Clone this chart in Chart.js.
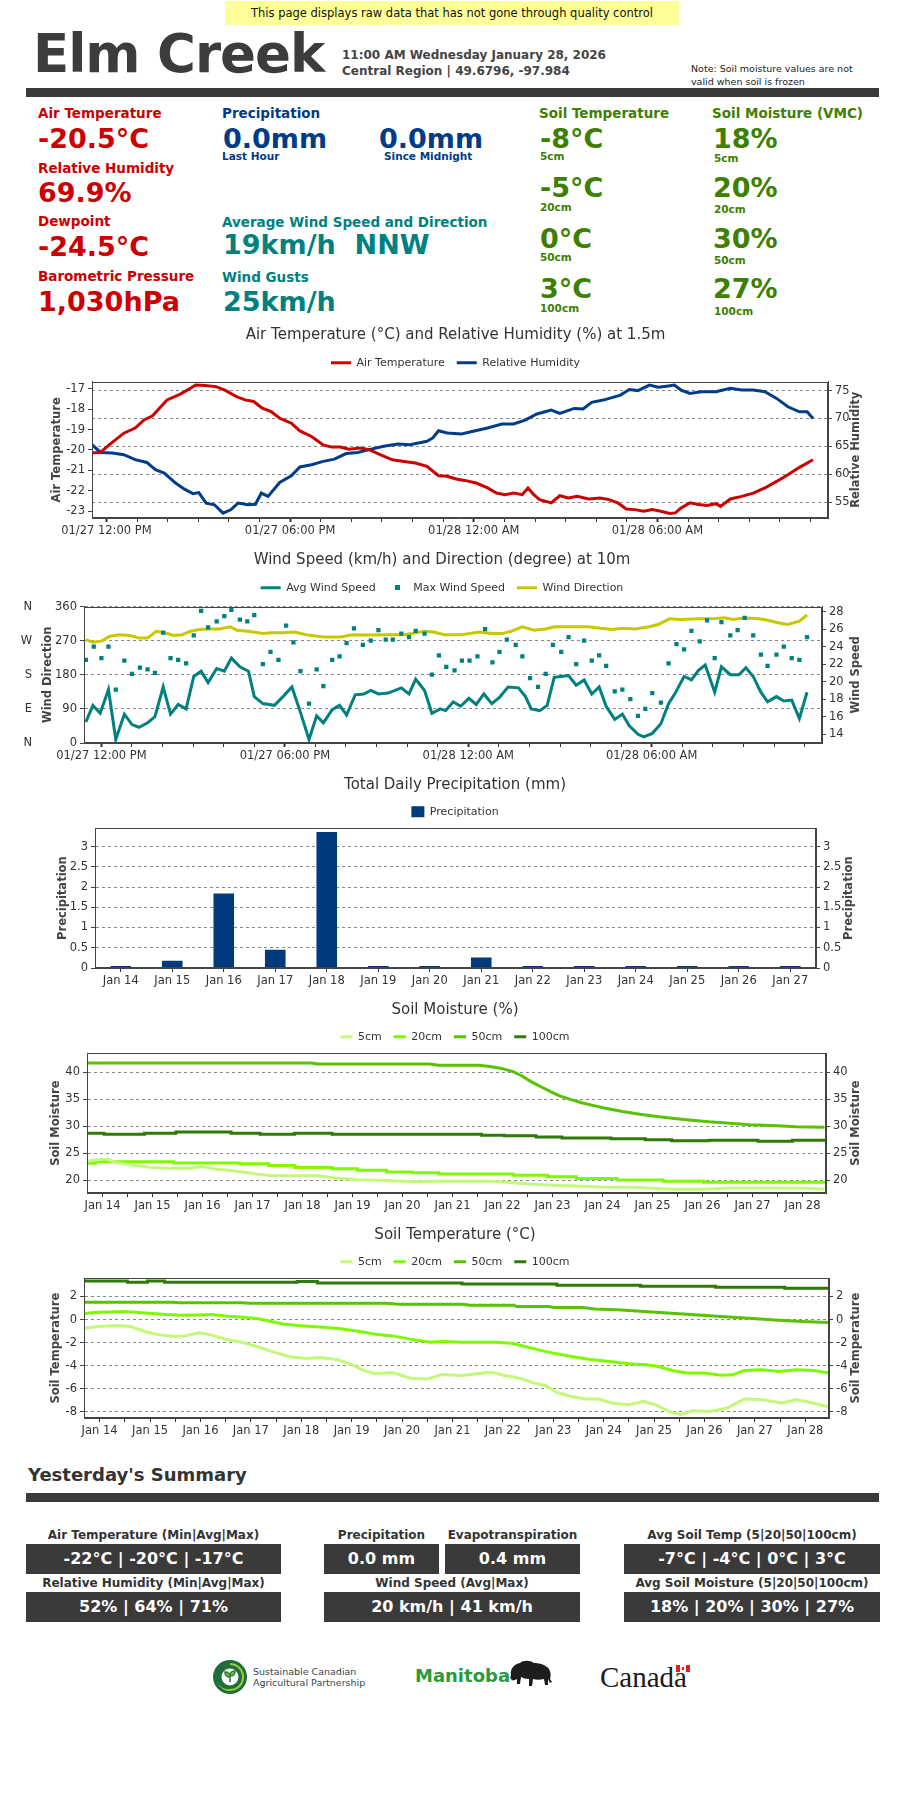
<!DOCTYPE html>
<html>
<head>
<meta charset="utf-8">
<title>Elm Creek</title>
<script src="https://cdn.jsdelivr.net/npm/chart.js@4/dist/chart.umd.min.js"></script>
<style>
  body { margin: 0; background: #fff; font-family: "DejaVu Sans", Verdana, sans-serif; }
  #page { position: relative; width: 900px; height: 1800px; overflow: hidden; }
  #page div, #page canvas, #page svg { position: absolute; }
  .t { white-space: pre; line-height: 1; }
  .lab { font-size: 13.5px; font-weight: bold; }
  .big { font-size: 27px; font-weight: bold; }
  .sub { font-size: 10.5px; font-weight: bold; }
  .red { color: #cc0000; }
  .blue { color: #003c87; }
  .teal { color: #00807f; }
  .green { color: #3d8000; }
  .rule { background: #3a3a3a; left: 26px; width: 853px; height: 9px; }
  .slab { font-size: 12px; font-weight: bold; color: #333; text-align: center; line-height: 14px; height: 14px; white-space: nowrap; }
  .box { background: #3a3a3a; color: #fff; font-size: 16px; font-weight: bold; text-align: center; height: 30px; line-height: 30px; white-space: pre; }
</style>
</head>
<body>
<div id="page">
  <div style="left:225px;top:1px;width:454px;height:24px;background:#ffff99;"></div>
  <div class="t" style="left:225px;top:1px;width:454px;line-height:24px;text-align:center;font-size:11.5px;color:#111;">This page displays raw data that has not gone through quality control</div>

  <div class="t" style="left:33px;top:27px;font-size:53px;font-weight:bold;letter-spacing:-1px;color:#3c3c3c;">Elm Creek</div>
  <div class="t" style="left:342px;top:49px;font-size:12px;font-weight:bold;color:#444;">11:00 AM Wednesday January 28, 2026</div>
  <div class="t" style="left:342px;top:65px;font-size:12px;font-weight:bold;color:#444;">Central Region | 49.6796, -97.984</div>
  <div class="t" style="left:691px;top:63.5px;font-size:9.5px;color:#222;">Note: Soil moisture values are not</div>
  <div class="t" style="left:691px;top:76.5px;font-size:9.5px;color:#222;">valid when soil is frozen</div>
  <div class="rule" style="top:88px;"></div>

  <div class="t lab red" style="left:38px;top:107px;">Air Temperature</div>
  <div class="t big red" style="left:38px;top:125px;">-20.5°C</div>
  <div class="t lab red" style="left:38px;top:161.5px;">Relative Humidity</div>
  <div class="t big red" style="left:38px;top:179.3px;">69.9%</div>
  <div class="t lab red" style="left:38px;top:215px;">Dewpoint</div>
  <div class="t big red" style="left:38px;top:233.3px;">-24.5°C</div>
  <div class="t lab red" style="left:38px;top:269.5px;">Barometric Pressure</div>
  <div class="t big red" style="left:38px;top:287.8px;">1,030hPa</div>

  <div class="t lab blue" style="left:222px;top:107px;">Precipitation</div>
  <div class="t big blue" style="left:223px;top:125px;">0.0mm</div>
  <div class="t sub blue" style="left:222px;top:150.8px;">Last Hour</div>
  <div class="t big blue" style="left:379px;top:125px;">0.0mm</div>
  <div class="t sub blue" style="left:384px;top:150.8px;">Since Midnight</div>
  <div class="t lab teal" style="left:222px;top:215.5px;">Average Wind Speed and Direction</div>
  <div class="t big teal" style="left:223px;top:231.3px;">19km/h  NNW</div>
  <div class="t lab teal" style="left:222px;top:270.5px;">Wind Gusts</div>
  <div class="t big teal" style="left:223px;top:287.8px;">25km/h</div>

  <div class="t lab green" style="left:539px;top:107px;">Soil Temperature</div>
  <div class="t big green" style="left:540px;top:125px;">-8°C</div>
  <div class="t sub green" style="left:540px;top:150.8px;">5cm</div>
  <div class="t big green" style="left:540px;top:173.8px;">-5°C</div>
  <div class="t sub green" style="left:540px;top:201.8px;">20cm</div>
  <div class="t big green" style="left:540px;top:224.8px;">0°C</div>
  <div class="t sub green" style="left:540px;top:252.3px;">50cm</div>
  <div class="t big green" style="left:540px;top:275.3px;">3°C</div>
  <div class="t sub green" style="left:540px;top:302.8px;">100cm</div>

  <div class="t lab green" style="left:712px;top:107px;">Soil Moisture (VMC)</div>
  <div class="t big green" style="left:713px;top:125px;">18%</div>
  <div class="t sub green" style="left:714px;top:152.8px;">5cm</div>
  <div class="t big green" style="left:713px;top:173.8px;">20%</div>
  <div class="t sub green" style="left:714px;top:203.8px;">20cm</div>
  <div class="t big green" style="left:713px;top:224.8px;">30%</div>
  <div class="t sub green" style="left:714px;top:254.8px;">50cm</div>
  <div class="t big green" style="left:713px;top:275.3px;">27%</div>
  <div class="t sub green" style="left:714px;top:305.5px;">100cm</div>

  <canvas id="airChart" width="900" height="218" style="left:0;top:326px;"></canvas>
  <canvas id="windChart" width="900" height="218" style="left:0;top:551px;"></canvas>
  <canvas id="precipChart" width="900" height="218" style="left:0;top:776px;"></canvas>
  <canvas id="moistChart" width="900" height="218" style="left:0;top:1001px;"></canvas>
  <canvas id="soilTempChart" width="900" height="218" style="left:0;top:1226px;"></canvas>

  <div class="t" style="left:28px;top:1466px;font-size:18px;font-weight:bold;color:#333;">Yesterday's Summary</div>
  <div class="rule" style="top:1493px;"></div>

  <div class="slab" style="left:26px;width:255px;top:1528px;">Air Temperature (Min|Avg|Max)</div>
  <div class="box" style="left:26px;width:255px;top:1544px;">-22°C | -20°C | -17°C</div>
  <div class="slab" style="left:324px;width:115px;top:1528px;">Precipitation</div>
  <div class="box" style="left:324px;width:115px;top:1544px;">0.0 mm</div>
  <div class="slab" style="left:445px;width:135px;top:1528px;">Evapotranspiration</div>
  <div class="box" style="left:445px;width:135px;top:1544px;">0.4 mm</div>
  <div class="slab" style="left:624px;width:256px;top:1528px;">Avg Soil Temp (5|20|50|100cm)</div>
  <div class="box" style="left:624px;width:256px;top:1544px;">-7°C | -4°C | 0°C | 3°C</div>

  <div class="slab" style="left:26px;width:255px;top:1576px;">Relative Humidity (Min|Avg|Max)</div>
  <div class="box" style="left:26px;width:255px;top:1592px;">52% | 64% | 71%</div>
  <div class="slab" style="left:324px;width:256px;top:1576px;">Wind Speed (Avg|Max)</div>
  <div class="box" style="left:324px;width:256px;top:1592px;">20 km/h | 41 km/h</div>
  <div class="slab" style="left:624px;width:256px;top:1576px;">Avg Soil Moisture (5|20|50|100cm)</div>
  <div class="box" style="left:624px;width:256px;top:1592px;">18% | 20% | 30% | 27%</div>

  <svg style="left:213px;top:1660px;" width="34" height="34" viewBox="0 0 34 34">
    <circle cx="17" cy="17" r="17" fill="#1f6e3a"/>
    <path d="M17 3 A14 14 0 1 1 4 22 A12 12 0 0 0 17 29 A12 12 0 0 0 17 5 Z" fill="#9ccc3c"/>
    <circle cx="17" cy="17" r="8.5" fill="#fff"/>
    <path d="M17 22 L17 16 M17 17 C14 17 12 15 12 12 C15 12 17 14 17 17 M17 16 C17 13 19 11 22 11 C22 14 20 16 17 16" stroke="#2f7d3a" stroke-width="1.6" fill="#8cc63f"/>
  </svg>
  <div class="t" style="left:253px;top:1667px;font-size:9.5px;color:#2f4858;">Sustainable Canadian</div>
  <div class="t" style="left:253px;top:1678px;font-size:9.5px;color:#2f4858;">Agricultural Partnership</div>
  <div class="t" style="left:415px;top:1667px;font-size:18px;font-weight:bold;color:#2b9a3c;">Manitoba</div>
  <svg style="left:508px;top:1660px;" width="45" height="28" viewBox="0 0 45 28">
    <path d="M3 15 C2 9 6 4 12 3 C15 0 22 0 26 3 C32 3 38 5 41 9 C43 12 43 16 42 19 L44 22 L42 23 L40 19 L40 25 L37 25 L36 19 C32 20 28 20 25 19 L24 26 L21 26 L21 19 C18 19 15 18 13 17 L12 24 L9 24 L9 19 C7 20 5 21 4 20 C2 19 2 17 3 15 Z" fill="#1d1d1b"/>
  </svg>
  <div class="t" style="left:600px;top:1663px;font-size:29px;font-family:'Liberation Serif','DejaVu Serif',serif;color:#1a1a1a;">Canada</div>
  <svg style="left:676px;top:1665px;" width="14" height="7" viewBox="0 0 14 7">
    <rect x="0" y="0" width="14" height="7" fill="#e31b23"/>
    <rect x="4" y="0" width="6" height="7" fill="#fff"/>
    <rect x="6" y="2" width="2" height="3" fill="#e31b23"/>
  </svg>
</div>

<script>
// ---------- 24 h air temperature / humidity (hours from 01/27 00:00) ----------
const timeTickHours = [12, 18, 24, 30];
const timeTickLabels = ['01/27 12:00 PM', '01/27 06:00 PM', '01/28 12:00 AM', '01/28 06:00 AM'];

const airTempHours = [11.53, 11.81, 12.09, 12.57, 12.94, 13.23, 13.51, 13.98, 14.36, 14.64,
  14.92, 15.21, 15.58, 15.87, 16.25, 16.53, 16.81, 17.09, 17.38, 17.66,
  18.04, 18.32, 18.7, 19.08, 19.36, 19.64, 19.92, 20.3, 20.58, 20.96,
  21.34, 21.72, 22.09, 22.47, 22.85, 23.13, 23.42, 23.7, 24.08, 24.45,
  24.74, 25.02, 25.3, 25.58, 25.77, 25.96, 26.15, 26.53, 26.81, 27.09,
  27.38, 27.75, 28.13, 28.42, 28.7, 28.98, 29.26, 29.55, 29.83, 30.11,
  30.4, 30.58, 30.77, 31.06, 31.34, 31.62, 31.91, 32.06, 32.38, 32.75,
  33.13, 33.51, 33.89, 34.26, 34.64, 35.08];
const airTempValues = [-20.15, -20.12, -19.75, -19.18, -18.93, -18.53, -18.33, -17.55, -17.31, -17.07,
  -16.82, -16.85, -16.9, -17.07, -17.39, -17.55, -17.63, -17.96, -18.12, -18.45,
  -18.69, -19.07, -19.34, -19.75, -19.86, -19.86, -19.96, -19.91, -19.99, -20.24,
  -20.48, -20.56, -20.64, -20.8, -21.26, -21.29, -21.42, -21.49, -21.62, -21.86,
  -22.11, -22.19, -22.11, -22.19, -21.86, -22.19, -22.43, -22.59, -22.24, -22.35,
  -22.27, -22.4, -22.35, -22.43, -22.59, -22.89, -22.92, -23.0, -22.92, -23.0,
  -23.11, -23.08, -22.84, -22.59, -22.67, -22.72, -22.63, -22.76, -22.4, -22.27,
  -22.11, -21.86, -21.54, -21.21, -20.85, -20.48];

const rhHours = [11.53, 11.81, 12.19, 12.57, 12.94, 13.32, 13.6, 13.89, 14.26, 14.55,
  14.83, 15.02, 15.26, 15.53, 15.81, 16.06, 16.3, 16.62, 16.87, 17.06,
  17.28, 17.66, 18.04, 18.32, 18.7, 19.08, 19.45, 19.83, 20.21, 20.58,
  21.06, 21.53, 21.91, 22.47, 22.66, 22.85, 23.13, 23.6, 23.98, 24.45,
  24.92, 25.3, 25.68, 26.06, 26.53, 26.81, 27.28, 27.57, 27.85, 28.23,
  28.79, 29.08, 29.36, 29.74, 30.02, 30.3, 30.55, 30.77, 31.06, 31.43,
  31.91, 32.38, 32.75, 33.13, 33.51, 33.89, 34.26, 34.64, 34.89, 35.08];
const rhValues = [65.3, 63.9, 63.8, 63.5, 62.6, 62.1, 60.8, 60.2, 58.4, 57.3,
  56.5, 56.7, 54.8, 54.5, 53.0, 53.6, 54.8, 54.5, 54.6, 56.6,
  56.0, 58.5, 59.7, 61.3, 61.7, 62.3, 62.7, 63.7, 63.9, 64.4,
  65.0, 65.4, 65.3, 65.9, 66.5, 67.8, 67.4, 67.2, 67.7, 68.3,
  69.0, 69.0, 69.7, 70.8, 71.5, 70.9, 71.8, 71.7, 72.9, 73.3,
  74.2, 75.2, 75.0, 76.0, 75.6, 75.8, 76.0, 75.1, 74.5, 74.8,
  74.8, 75.4, 75.1, 75.1, 74.8, 73.6, 72.1, 71.2, 71.2, 70.0];
const tempTicks = [-23, -22, -21, -20, -19, -18, -17];
const rhTicks = [55, 60, 65, 70, 75];

// ---------- wind ----------
const windDirHours = [11.49, 11.72, 12.0, 12.28, 12.57, 12.94, 13.23, 13.51, 13.79, 14.08,
  14.36, 14.64, 14.92, 15.21, 15.49, 15.87, 16.21, 16.43, 16.81, 17.28,
  17.57, 17.94, 18.32, 18.7, 19.26, 19.83, 20.21, 20.77, 21.34, 21.91,
  22.57, 22.85, 23.23, 23.79, 24.36, 24.74, 25.11, 25.4, 25.77, 26.15,
  26.53, 26.81, 27.38, 27.94, 28.32, 28.7, 29.08, 29.45, 29.92, 30.21,
  30.58, 30.96, 31.53, 32.09, 32.38, 32.66, 33.04, 33.51, 33.79, 34.17,
  34.45, 34.83, 35.08];
const windDirValues = [273, 266, 269, 282, 286, 284, 277, 277, 295, 291,
  284, 286, 295, 300, 301, 301, 307, 298, 295, 289,
  291, 291, 293, 286, 280, 280, 286, 285, 286, 286,
  295, 293, 286, 286, 293, 289, 289, 295, 307, 298,
  301, 307, 307, 307, 303, 300, 303, 301, 307, 313,
  328, 326, 328, 329, 331, 326, 330, 328, 324, 317,
  313, 322, 338];

const avgWindHours = [11.49, 11.72, 11.96, 12.23, 12.47, 12.75, 13.0, 13.23, 13.51, 13.75,
  14.02, 14.26, 14.51, 14.77, 15.02, 15.26, 15.49, 15.77, 16.02, 16.25,
  16.53, 16.81, 17.0, 17.28, 17.66, 17.94, 18.23, 18.51, 18.79, 19.04,
  19.26, 19.55, 19.79, 20.02, 20.3, 20.58, 20.81, 21.06, 21.38, 21.81,
  22.06, 22.28, 22.57, 22.81, 23.08, 23.26, 23.51, 23.75, 24.02, 24.26,
  24.51, 24.77, 25.02, 25.3, 25.64, 25.87, 26.06, 26.34, 26.58, 26.81,
  27.04, 27.28, 27.53, 27.79, 28.04, 28.28, 28.51, 28.79, 29.04, 29.26,
  29.55, 29.74, 30.02, 30.3, 30.55, 30.77, 31.06, 31.3, 31.53, 31.75,
  32.06, 32.28, 32.57, 32.85, 33.08, 33.32, 33.57, 33.79, 34.08, 34.32,
  34.58, 34.83, 35.08];
const avgWindValues = [15.4, 17.3, 16.4, 19.1, 13.4, 16.3, 15.1, 14.8, 15.3, 16.0,
  19.4, 16.3, 17.4, 16.9, 20.6, 21.2, 19.9, 21.5, 21.2, 22.7,
  21.7, 21.2, 18.3, 17.5, 17.3, 18.3, 19.4, 16.5, 13.4, 16.1,
  15.3, 16.8, 17.3, 16.2, 18.5, 18.6, 19.0, 18.6, 18.7, 19.3,
  18.6, 20.3, 19.0, 16.4, 16.9, 16.7, 17.7, 17.2, 18.1, 17.4,
  18.6, 17.5, 18.2, 19.4, 19.3, 18.3, 16.9, 16.7, 17.3, 20.5,
  20.6, 20.7, 19.6, 20.2, 18.6, 19.4, 17.2, 15.7, 16.3, 15.0,
  14.0, 13.7, 14.1, 15.2, 17.5, 18.7, 20.6, 20.2, 21.3, 21.9,
  18.8, 21.7, 20.8, 20.8, 21.6, 20.6, 18.8, 17.7, 18.3, 17.8,
  17.9, 15.8, 18.8];

const maxWindHours = [11.49, 11.75, 12.0, 12.23, 12.47, 12.75, 13.0, 13.26, 13.51, 13.75,
  14.02, 14.26, 14.51, 14.77, 15.02, 15.26, 15.49, 15.77, 16.02, 16.25,
  16.53, 16.77, 17.0, 17.28, 17.53, 17.79, 18.04, 18.28, 18.51, 18.79,
  19.04, 19.26, 19.55, 19.79, 20.02, 20.26, 20.55, 20.81, 21.06, 21.3,
  21.53, 21.81, 22.06, 22.28, 22.57, 22.81, 23.04, 23.28, 23.55, 23.79,
  24.04, 24.3, 24.55, 24.79, 25.02, 25.26, 25.55, 25.77, 26.02, 26.28,
  26.53, 26.77, 27.04, 27.28, 27.53, 27.79, 28.04, 28.28, 28.51, 28.79,
  29.04, 29.3, 29.55, 29.79, 30.02, 30.3, 30.55, 30.81, 31.06, 31.3,
  31.57, 31.81, 32.06, 32.28, 32.57, 32.81, 33.04, 33.32, 33.57, 33.79,
  34.08, 34.32, 34.58, 34.83, 35.08];
const maxWindValues = [22.5, 24.0, 22.7, 24.0, 19.1, 22.4, 20.9, 21.6, 21.4, 21.0,
  25.6, 22.7, 22.5, 22.1, 25.3, 28.1, 26.2, 26.9, 27.5, 28.2,
  27.1, 26.9, 27.6, 22.0, 23.4, 22.5, 26.4, 24.5, 21.2, 17.5,
  21.4, 19.5, 22.5, 22.9, 24.4, 26.1, 24.2, 24.7, 25.9, 24.8,
  24.8, 25.5, 25.1, 25.8, 25.5, 20.8, 23.0, 21.7, 21.3, 22.4,
  22.4, 22.9, 26.0, 22.2, 23.4, 24.8, 24.2, 22.9, 20.4, 19.4,
  20.9, 24.2, 23.4, 25.1, 22.0, 24.7, 22.4, 23.0, 21.8, 18.9,
  19.1, 18.0, 16.1, 16.9, 18.7, 17.6, 22.1, 24.3, 23.7, 25.8,
  24.6, 27.0, 22.7, 26.8, 25.3, 25.9, 27.3, 25.3, 23.1, 21.8,
  23.1, 24.0, 22.7, 22.5, 25.1];
const dirTicks = [0, 90, 180, 270, 360];
const compassLabels = ['N', 'E', 'S', 'W', 'N'];
const windTicks = [14, 16, 18, 20, 22, 24, 26, 28];

// ---------- daily precipitation ----------
const precipDays = ['Jan 14', 'Jan 15', 'Jan 16', 'Jan 17', 'Jan 18', 'Jan 19', 'Jan 20',
  'Jan 21', 'Jan 22', 'Jan 23', 'Jan 24', 'Jan 25', 'Jan 26', 'Jan 27'];
const precipValues = [0, 0.18, 1.84, 0.45, 3.36, 0, 0, 0.26, 0, 0, 0, 0, 0, 0];
const precipTicks = [0, 0.5, 1, 1.5, 2, 2.5, 3];

// ---------- soil (days from Jan 14 00:00) ----------
const soilDayLabels = ['Jan 14', 'Jan 15', 'Jan 16', 'Jan 17', 'Jan 18', 'Jan 19', 'Jan 20', 'Jan 21',
  'Jan 22', 'Jan 23', 'Jan 24', 'Jan 25', 'Jan 26', 'Jan 27', 'Jan 28'];

const moist5Days = [-0.31, -0.14, 0.09, 0.26, 0.44, 0.67, 0.96, 1.3, 1.76, 1.99,
  2.22, 2.51, 2.8, 3.09, 3.38, 4.3, 4.64, 5.1, 5.68, 6.26,
  6.72, 7.75, 8.1, 8.44, 8.91, 9.48, 9.94, 10.63, 11.09, 11.38,
  12.02, 12.59, 13.28, 14.09, 14.44];
const moist5Values = [23.5, 23.7, 23.9, 23.3, 23.0, 22.7, 22.35, 22.2, 22.2, 22.5,
  22.1, 21.8, 21.5, 21.1, 20.8, 20.8, 20.4, 20.05, 19.9, 19.7,
  19.8, 19.8, 19.6, 19.3, 19.1, 18.9, 18.7, 18.65, 18.45, 18.3,
  18.3, 18.55, 18.55, 18.5, 18.3];
const moist20Days = [-0.31, -0.14, 1.42, 2.74, 3.32, 3.84, 4.59, 5.1, 5.68, 6.2,
  6.72, 8.21, 8.9, 9.48, 10.29, 11.21, 12.02, 14.46];
const moist20Values = [23.1, 23.4, 23.15, 23.0, 22.7, 22.35, 22.1, 21.8, 21.5, 21.35,
  21.1, 20.9, 20.6, 20.3, 20.0, 19.8, 19.6, 19.6];
const moist50Days = [-0.31, 4.18, 4.3, 6.54, 6.72, 7.52, 7.75, 7.98, 8.21, 8.39,
  8.56, 8.79, 8.96, 9.14, 9.37, 9.6, 9.83, 10.06, 10.4, 10.75,
  11.09, 11.44, 11.79, 12.13, 12.48, 12.94, 13.4, 13.86, 14.44];
const moist50Values = [41.7, 41.7, 41.5, 41.5, 41.3, 41.3, 41.05, 40.7, 40.1, 39.3,
  38.3, 37.2, 36.4, 35.6, 34.9, 34.3, 33.8, 33.3, 32.7, 32.2,
  31.8, 31.4, 31.1, 30.8, 30.6, 30.25, 30.1, 29.9, 29.8];
const moist100Days = [-0.31, 0.03, 0.84, 1.47, 2.57, 3.15, 3.84, 4.59, 7.58, 8.04,
  8.67, 9.19, 10.17, 10.86, 11.38, 12.13, 13.11, 13.8, 14.46];
const moist100Values = [28.7, 28.5, 28.7, 28.9, 28.7, 28.5, 28.7, 28.5, 28.3, 28.2,
  28.0, 27.8, 27.65, 27.45, 27.3, 27.4, 27.2, 27.4, 27.4];
const moistTicks = [20, 25, 30, 35, 40];

const temp5Days = [-0.31, -0.02, 0.32, 0.61, 0.89, 1.18, 1.46, 1.69, 1.98, 2.21,
  2.49, 2.84, 3.12, 3.41, 3.75, 4.1, 4.38, 4.73, 5.01, 5.24,
  5.47, 5.81, 6.16, 6.5, 6.78, 7.19, 7.47, 7.76, 8.04, 8.33,
  8.62, 8.84, 9.07, 9.36, 9.65, 9.87, 10.16, 10.5, 10.79, 11.02,
  11.3, 11.53, 11.76, 12.1, 12.45, 12.79, 13.13, 13.54, 13.82, 14.11, 14.47];
const temp5Values = [-0.75, -0.61, -0.52, -0.61, -1.04, -1.33, -1.47, -1.42, -1.16, -1.33,
  -1.71, -1.99, -2.34, -2.77, -3.21, -3.38, -3.29, -3.5, -3.93, -4.42,
  -4.71, -4.6, -5.09, -5.17, -4.77, -4.86, -4.71, -4.57, -4.86, -5.09,
  -5.52, -5.72, -6.33, -6.68, -6.91, -6.88, -7.25, -7.4, -7.11, -7.4,
  -8.0, -8.27, -7.92, -7.98, -7.69, -6.91, -6.97, -7.25, -6.97, -7.2, -7.6];
const temp20Days = [-0.31, -0.02, 0.49, 0.84, 1.24, 1.58, 1.98, 2.21, 2.55, 2.84,
  3.12, 3.35, 3.64, 3.98, 4.44, 4.78, 5.13, 5.47, 5.81, 6.16,
  6.56, 6.84, 7.19, 7.87, 8.16, 8.44, 8.79, 9.07, 9.36, 9.7,
  10.16, 10.5, 10.85, 11.08, 11.36, 11.65, 11.99, 12.33, 12.56, 12.79,
  13.13, 13.48, 13.82, 14.16, 14.47];
const temp20Values = [0.52, 0.64, 0.69, 0.58, 0.46, 0.38, 0.4, 0.43, 0.29, 0.2,
  0.09, -0.12, -0.38, -0.55, -0.66, -0.81, -1.01, -1.27, -1.42, -1.7,
  -1.97, -1.91, -1.97, -1.97, -2.05, -2.34, -2.72, -2.98, -3.21, -3.44,
  -3.67, -3.84, -3.93, -4.08, -4.42, -4.65, -4.65, -4.83, -4.8, -4.42,
  -4.36, -4.51, -4.36, -4.42, -4.65];
const temp50Days = [-0.31, 1.46, 1.58, 2.84, 2.95, 5.7, 5.93, 7.19, 7.36, 8.22,
  8.27, 8.9, 9.02, 9.59, 9.82, 10.27, 10.73, 11.19, 11.65, 12.1,
  12.56, 13.02, 13.48, 13.94, 14.47];
const temp50Values = [1.5, 1.5, 1.45, 1.45, 1.42, 1.42, 1.33, 1.33, 1.24, 1.24,
  1.13, 1.13, 1.04, 1.04, 0.92, 0.84, 0.72, 0.58, 0.46, 0.32,
  0.2, 0.06, -0.06, -0.17, -0.26];
const temp100Days = [-0.31, 0.55, 0.95, 1.29, 3.92, 4.32, 7.19, 9.07, 10.73, 12.22, 13.59, 14.47];
const temp100Values = [3.35, 3.24, 3.35, 3.24, 3.3, 3.18, 3.09, 2.98, 2.89, 2.8, 2.72, 2.72];
const soilTempTicks = [-8, -6, -4, -2, 0, 2];

// ---------- colours ----------
const red = '#cc0000', navy = '#003c87', teal = '#00807f', olive = '#c8c800', barBlue = '#003a7d';
const soilColours = ['#c4f878', '#7dfa00', '#58c200', '#2e7a06'];

// ---------- helpers ----------
Chart.defaults.font.family = '"DejaVu Sans", Verdana, sans-serif';
Chart.defaults.font.size = 11.5;
Chart.defaults.color = '#333';
Chart.defaults.animation = false;
Chart.defaults.responsive = false;
Chart.defaults.plugins.tooltip.enabled = false;

const pts = (xs, ys) => xs.map((x, i) => ({ x, y: ys[i] }));

const frame = {
  id: 'frame',
  afterDraw(chart) {
    const { ctx, chartArea: a } = chart;
    ctx.save();
    ctx.strokeStyle = '#444';
    ctx.lineWidth = 1;
    ctx.strokeRect(Math.round(a.left) + 0.5, Math.round(a.top) + 0.5, Math.round(a.width) - 1, Math.round(a.height) - 1);
    ctx.restore();
  }
};

// right-hand axis titles read bottom-to-top like the left ones
function rightTitle(text) {
  return {
    id: 'rightTitle',
    afterDraw(chart) {
      const { ctx, chartArea: a } = chart;
      ctx.save();
      ctx.translate(chart.scales.y1.right - 9, (a.top + a.bottom) / 2);
      ctx.rotate(-Math.PI / 2);
      ctx.font = 'bold 11.5px "DejaVu Sans", Verdana, sans-serif';
      ctx.fillStyle = '#444';
      ctx.textAlign = 'center';
      ctx.textBaseline = 'middle';
      ctx.fillText(text, 0, 0);
      ctx.restore();
    }
  };
}

function chartTitle(text) {
  return { display: true, text, color: '#333', font: { size: 15, weight: 'normal' }, padding: { top: 0, bottom: 0 } };
}

function valueAxis(position, min, max, ticks, title, width, grid) {
  return {
    position, min, max,
    afterBuildTicks: s => { s.ticks = ticks.map(value => ({ value })); },
    afterFit: s => { s.width = width; },
    title: { display: !!title, text: title, color: '#444', font: { size: 11.5, weight: 'bold' }, padding: 4 },
    ticks: { color: '#333', padding: 3, callback: v => String(v) },
    grid: { drawOnChartArea: grid, color: '#888', tickColor: '#444', tickLength: 4 },
    border: { color: '#444', dash: [3, 3] }
  };
}

function timeAxis(min, max) {
  return {
    type: 'linear', min, max,
    afterBuildTicks: s => {
      s.ticks = [];
      for (let h = Math.ceil(min); h <= max; h++) s.ticks.push({ value: h });
    },
    afterFit: s => { s.height = 26; },
    ticks: {
      autoSkip: false, maxRotation: 0, padding: 2, color: '#333',
      callback: v => { const i = timeTickHours.indexOf(v); return i < 0 ? '' : timeTickLabels[i]; }
    },
    grid: {
      drawOnChartArea: false, tickLength: 4, tickColor: '#333',
      tickWidth: c => (c.tick && timeTickHours.includes(c.tick.value) ? 2 : 1)
    },
    border: { color: '#444' }
  };
}

function dayAxis(min, max) {
  return {
    type: 'linear', min, max,
    afterBuildTicks: s => {
      s.ticks = [];
      for (let d = 0; d <= max; d += 0.5) s.ticks.push({ value: d });
    },
    afterFit: s => { s.height = 26; },
    ticks: {
      autoSkip: false, maxRotation: 0, padding: 2, color: '#333',
      callback: v => (Number.isInteger(v) ? soilDayLabels[v] : '')
    },
    grid: { drawOnChartArea: false, tickLength: 4, tickColor: '#333' },
    border: { color: '#444' }
  };
}

// nudge legend and plot area onto the rows they sit on in the original page
function place(chart, legendY, plotTop) {
  const legend = chart.legend;
  const fit = legend.fit;
  let gap = 0;
  legend.fit = function () { fit.call(this); this.height += gap; };
  const box = legend.legendHitBoxes[0];
  chart.options.plugins.title.padding = { top: 0, bottom: Math.max(0, legendY - (box.top + box.height / 2)) };
  chart.update();
  gap = Math.max(0, plotTop - chart.chartArea.top);
  chart.update();
}

// ---------- air temperature & humidity ----------
const airChart = new Chart(document.getElementById('airChart'), {
  type: 'line',
  data: {
    datasets: [
      { label: 'Air Temperature', data: pts(airTempHours, airTempValues), yAxisID: 'y',
        borderColor: red, backgroundColor: red, borderWidth: 3, pointRadius: 0, pointStyle: 'line' },
      { label: 'Relative Humidity', data: pts(rhHours, rhValues), yAxisID: 'y1',
        borderColor: navy, backgroundColor: navy, borderWidth: 3, pointRadius: 0, pointStyle: 'line' }
    ]
  },
  options: {
    layout: { padding: { left: 46, right: 35, top: 0, bottom: 0 } },
    plugins: {
      title: chartTitle('Air Temperature (°C) and Relative Humidity (%) at 1.5m'),
      legend: { labels: { usePointStyle: true, pointStyleWidth: 20, padding: 12, font: { size: 11 }, color: '#333' } }
    },
    scales: {
      x: timeAxis(11.53, 35.57),
      y: valueAxis('left', -23.33, -16.66, tempTicks, 'Air Temperature', 46, false),
      y1: valueAxis('right', 52.13, 76.6, rhTicks, '', 37, true)
    }
  },
  plugins: [frame, rightTitle('Relative Humidity')]
});
place(airChart, 362.7 - 326, 381.7 - 326);

// ---------- wind ----------
const squareMark = document.createElement('canvas');
squareMark.width = 5;
squareMark.height = 5;
squareMark.getContext('2d').fillStyle = teal;
squareMark.getContext('2d').fillRect(0, 0, 5, 5);

const compassAxis = valueAxis('left', 0, 360, dirTicks, '', 18, false);
compassAxis.weight = 1;
compassAxis.grid = { display: false };
compassAxis.border = { display: false };
compassAxis.ticks = { color: '#333', padding: -3, callback: (v, i) => compassLabels[i] };

const windChart = new Chart(document.getElementById('windChart'), {
  type: 'line',
  data: {
    datasets: [
      { label: 'Avg Wind Speed', data: pts(avgWindHours, avgWindValues), yAxisID: 'y1',
        borderColor: teal, backgroundColor: teal, borderWidth: 3, pointRadius: 0, pointStyle: 'line' },
      { label: 'Max Wind Speed', data: pts(maxWindHours, maxWindValues), yAxisID: 'y1', showLine: false,
        backgroundColor: teal, borderWidth: 0, pointRadius: 3, pointStyle: 'rect' },
      { label: 'Wind Direction', data: pts(windDirHours, windDirValues), yAxisID: 'y',
        borderColor: olive, backgroundColor: olive, borderWidth: 3, pointRadius: 0, pointStyle: 'line' }
    ]
  },
  options: {
    layout: { padding: { left: 19, right: 35, top: 0, bottom: 0 } },
    plugins: {
      title: chartTitle('Wind Speed (km/h) and Direction (degree) at 10m'),
      legend: {
        labels: {
          usePointStyle: true, pointStyleWidth: 20, padding: 12, font: { size: 11 }, color: '#333',
          generateLabels: chart => Chart.defaults.plugins.legend.labels.generateLabels(chart)
            .map(l => (l.datasetIndex === 1 ? { ...l, pointStyle: squareMark } : l))
        }
      }
    },
    scales: {
      x: timeAxis(11.43, 35.57),
      y: valueAxis('left', 0, 360, dirTicks, 'Wind Direction', 47, true),
      yc: compassAxis,
      y1: valueAxis('right', 13.0, 28.57, windTicks, '', 43, false)
    }
  },
  plugins: [frame, rightTitle('Wind Speed')]
});
place(windChart, 587.7 - 551, 606.7 - 551);

// ---------- precipitation ----------
const precipChart = new Chart(document.getElementById('precipChart'), {
  type: 'bar',
  data: {
    labels: precipDays,
    datasets: [{ label: 'Precipitation', data: precipValues, backgroundColor: barBlue, borderWidth: 0,
      barPercentage: 0.4, categoryPercentage: 1, minBarLength: 2, yAxisID: 'y' }]
  },
  options: {
    layout: { padding: { left: 52, right: 42, top: 0, bottom: 0 } },
    plugins: {
      title: chartTitle('Total Daily Precipitation (mm)'),
      legend: { labels: { boxWidth: 13, boxHeight: 11, padding: 10, font: { size: 11 }, color: '#333' } }
    },
    scales: {
      x: {
        afterFit: s => { s.height = 26; },
        ticks: { autoSkip: false, maxRotation: 0, padding: 2, color: '#333' },
        grid: { offset: false, drawOnChartArea: false, tickLength: 4, tickColor: '#333' },
        border: { color: '#444' }
      },
      y: valueAxis('left', 0, 3.45, precipTicks, 'Precipitation', 43, true),
      y1: valueAxis('right', 0, 3.45, precipTicks, '', 42, false)
    }
  },
  plugins: [frame, rightTitle('Precipitation')]
});
place(precipChart, 811.7 - 776, 828.3 - 776);

// ---------- soil moisture & soil temperature ----------
const depthLabels = ['5cm', '20cm', '50cm', '100cm'];

function soilDatasets(series, steppedIdx) {
  return series.map(([days, values], i) => ({
    label: depthLabels[i], data: pts(days, values), yAxisID: 'y',
    borderColor: soilColours[i], backgroundColor: soilColours[i], borderWidth: 3,
    pointRadius: 0, pointStyle: 'line', stepped: steppedIdx.includes(i)
  }));
}

const soilLegend = { labels: { usePointStyle: true, pointStyleWidth: 12, padding: 12, font: { size: 11 }, color: '#333' } };

const moistChart = new Chart(document.getElementById('moistChart'), {
  type: 'line',
  data: {
    datasets: soilDatasets([[moist5Days, moist5Values], [moist20Days, moist20Values],
      [moist50Days, moist50Values], [moist100Days, moist100Values]], [1, 3])
  },
  options: {
    layout: { padding: { left: 45, right: 35, top: 0, bottom: 0 } },
    plugins: { title: chartTitle('Soil Moisture (%)'), legend: soilLegend },
    scales: {
      x: dayAxis(-0.31, 14.47),
      y: valueAxis('left', 17.6, 43.5, moistTicks, 'Soil Moisture', 42, true),
      y1: valueAxis('right', 17.6, 43.5, moistTicks, '', 39, false)
    }
  },
  plugins: [frame, rightTitle('Soil Moisture')]
});
place(moistChart, 1036.7 - 1001, 1053.3 - 1001);

const soilTempChart = new Chart(document.getElementById('soilTempChart'), {
  type: 'line',
  data: {
    datasets: soilDatasets([[temp5Days, temp5Values], [temp20Days, temp20Values],
      [temp50Days, temp50Values], [temp100Days, temp100Values]], [3])
  },
  options: {
    layout: { padding: { left: 45, right: 35, top: 0, bottom: 0 } },
    plugins: { title: chartTitle('Soil Temperature (°C)'), legend: soilLegend },
    scales: {
      x: dayAxis(-0.31, 14.47),
      y: valueAxis('left', -8.55, 3.58, soilTempTicks, 'Soil Temperature', 39, true),
      y1: valueAxis('right', -8.55, 3.58, soilTempTicks, '', 36, false)
    }
  },
  plugins: [frame, rightTitle('Soil Temperature')]
});
place(soilTempChart, 1261.7 - 1226, 1278.3 - 1226);
</script>
</body>
</html>
